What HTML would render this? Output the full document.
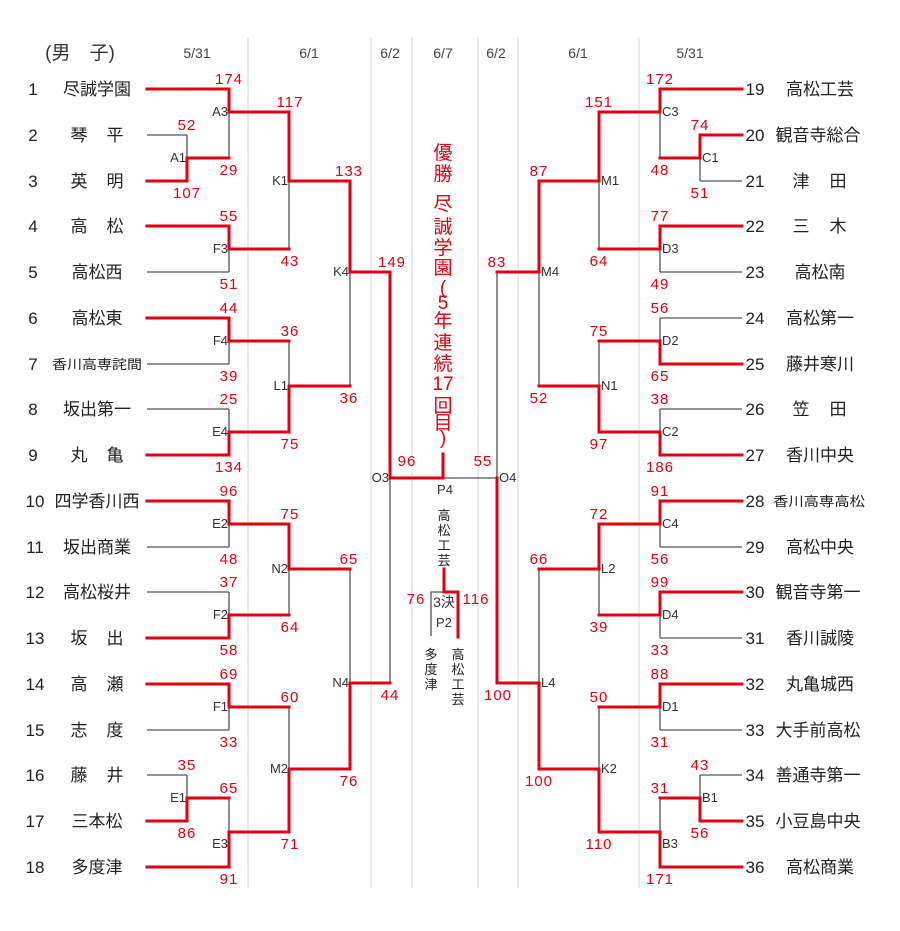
<!DOCTYPE html>
<html><head><meta charset="utf-8"><style>
html,body{margin:0;padding:0;background:#fff;}
svg{display:block;}
.n{font-family:"Liberation Sans","Noto Sans CJK JP",sans-serif;font-size:17px;fill:#222;}
.nm{font-family:"Liberation Sans","Noto Sans CJK JP",sans-serif;font-size:17px;fill:#222;text-anchor:middle;}
.s{font-family:"Liberation Sans",sans-serif;font-size:15px;fill:#e0000f;text-anchor:middle;letter-spacing:1px;}
.l{font-family:"Liberation Sans",sans-serif;font-size:13px;fill:#333;}
.h{font-family:"Liberation Sans","Noto Sans CJK JP",sans-serif;font-size:14px;fill:#444;text-anchor:middle;}
.w{font-family:"Liberation Sans","Noto Sans CJK JP",sans-serif;font-size:19px;fill:#e0000f;text-anchor:middle;}
.v{font-family:"Liberation Sans","Noto Sans CJK JP",sans-serif;font-size:13px;fill:#222;text-anchor:middle;}
.g{stroke:#555;stroke-width:1.3;fill:none;}
.r{stroke:#e0000f;stroke-width:3;fill:none;stroke-linecap:square;}
.sep{stroke:#d4d4d4;stroke-width:1;}
</style></head><body>
<svg width="900" height="931" viewBox="0 0 900 931" xmlns="http://www.w3.org/2000/svg">
<g class="sep">
<line x1="248" y1="38" x2="248" y2="888"/><line x1="371" y1="38" x2="371" y2="888"/>
<line x1="412" y1="38" x2="412" y2="888"/><line x1="478" y1="38" x2="478" y2="888"/>
<line x1="518" y1="38" x2="518" y2="888"/><line x1="639" y1="38" x2="639" y2="888"/>
</g>
<text x="80" y="59" class="h" style="font-size:19px;fill:#333">(男　子)</text>
<text x="197" y="58" class="h">5/31</text><text x="309" y="58" class="h">6/1</text>
<text x="390" y="58" class="h">6/2</text><text x="443" y="58" class="h">6/7</text>
<text x="496" y="58" class="h">6/2</text><text x="578" y="58" class="h">6/1</text>
<text x="690" y="58" class="h">5/31</text>

<g class="g">
<path d="M147 135H187M147 272H229M147 364H229M147 409H229M147 547H229M147 592H229M147 730H229M147 775H187"/>
<path d="M187 135V181M229 89V158M229 226V272M229 318V364M229 409V455M229 501V547M229 592V638M229 684V730M187 775V821M229 798V867M289 112V249M289 341V432M289 524V615M289 707V832M350 181V386M350 569V769M390 272V683"/>
<path d="M742 181H700M742 272H660M742 318H660M742 409H660M742 547H660M742 638H660M742 730H660M742 775H700"/>
<path d="M660 89V158M700 135V181M660 226V272M660 318V364M660 409V455M660 501V547M660 592V638M660 684V730M700 775V821M660 798V867M599 112V249M599 341V432M599 524V615M599 707V832M539 181V386M539 569V769M497 272V683"/>
<path d="M497 478H443"/>
<path d="M431 636V592H444"/>
</g>

<g class="r">
<path d="M147 89H229M147 181H187M147 226H229M147 318H229M147 455H229M147 501H229M147 638H229M147 684H229M147 821H187M147 867H229"/>
<path d="M187 181V158M229 89V112M229 226V249M229 318V341M229 455V432M229 501V524M229 638V615M229 684V707M187 821V798M229 867V832M289 112V181M289 432V386M289 524V569M289 832V769M350 181V272M350 769V683M390 272V478"/>
<path d="M187 158H229M229 112H289M229 249H289M229 341H289M229 432H289M229 524H289M229 615H289M229 707H289M187 798H229M229 832H289M289 181H350M289 386H350M289 569H350M289 769H350M350 272H390M350 683H390M390 478H443V454"/>
<path d="M742 89H660M742 135H700M742 226H660M742 364H660M742 455H660M742 501H660M742 592H660M742 684H660M742 821H700M742 867H660"/>
<path d="M660 89V112M700 135V158M660 226V249M660 364V341M660 455V432M660 501V524M660 592V615M660 684V707M700 821V798M660 867V832M599 112V181M599 432V386M599 524V569M599 832V769M539 181V272M539 769V683M497 683V478"/>
<path d="M700 158H660M660 112H599M660 249H599M660 341H599M660 432H599M660 524H599M660 615H599M660 707H599M700 798H660M660 832H599M599 181H539M599 386H539M599 569H539M599 769H539M539 272H497M539 683H497"/>
<path d="M444 569V592H458V637"/>
</g>

<g class="n" text-anchor="middle">
<text x="33" y="95">1</text><text x="33" y="141">2</text><text x="33" y="187">3</text><text x="33" y="232">4</text><text x="33" y="278">5</text><text x="33" y="324">6</text><text x="33" y="370">7</text><text x="33" y="415">8</text><text x="33" y="461">9</text>
<text x="35" y="507">10</text><text x="35" y="553">11</text><text x="35" y="598">12</text><text x="35" y="644">13</text><text x="35" y="690">14</text><text x="35" y="736">15</text><text x="35" y="781">16</text><text x="35" y="827">17</text><text x="35" y="873">18</text>
</g>
<g class="nm">
<text x="97" y="95">尽誠学園</text>
<text x="79" y="141">琴</text><text x="115" y="141">平</text>
<text x="79" y="187">英</text><text x="115" y="187">明</text>
<text x="79" y="232">高</text><text x="115" y="232">松</text>
<text x="97" y="278">高松西</text>
<text x="97" y="324">高松東</text>
<text x="97" y="369" style="font-size:13px" textLength="90" lengthAdjust="spacingAndGlyphs">香川高専詫間</text>
<text x="97" y="415">坂出第一</text>
<text x="79" y="461">丸</text><text x="115" y="461">亀</text>
<text x="97" y="507">四学香川西</text>
<text x="97" y="553">坂出商業</text>
<text x="97" y="598">高松桜井</text>
<text x="79" y="644">坂</text><text x="115" y="644">出</text>
<text x="79" y="690">高</text><text x="115" y="690">瀬</text>
<text x="79" y="736">志</text><text x="115" y="736">度</text>
<text x="79" y="781">藤</text><text x="115" y="781">井</text>
<text x="97" y="827">三本松</text>
<text x="97" y="873">多度津</text>
</g>

<g class="nm">
<text x="755" y="95">19</text><text x="755" y="141">20</text><text x="755" y="187">21</text><text x="755" y="232">22</text><text x="755" y="278">23</text><text x="755" y="324">24</text><text x="755" y="370">25</text><text x="755" y="415">26</text><text x="755" y="461">27</text>
<text x="755" y="507">28</text><text x="755" y="553">29</text><text x="755" y="598">30</text><text x="755" y="644">31</text><text x="755" y="690">32</text><text x="755" y="736">33</text><text x="755" y="781">34</text><text x="755" y="827">35</text><text x="755" y="873">36</text>
<text x="820" y="95">高松工芸</text>
<text x="818" y="141">観音寺総合</text>
<text x="801" y="187">津</text><text x="838" y="187">田</text>
<text x="801" y="232">三</text><text x="838" y="232">木</text>
<text x="820" y="278">高松南</text>
<text x="820" y="324">高松第一</text>
<text x="820" y="370">藤井寒川</text>
<text x="801" y="415">笠</text><text x="838" y="415">田</text>
<text x="820" y="461">香川中央</text>
<text x="819" y="506" style="font-size:13px" textLength="92" lengthAdjust="spacingAndGlyphs">香川高専高松</text>
<text x="820" y="553">高松中央</text>
<text x="818" y="598">観音寺第一</text>
<text x="820" y="644">香川誠陵</text>
<text x="820" y="690">丸亀城西</text>
<text x="818" y="736">大手前高松</text>
<text x="818" y="781">善通寺第一</text>
<text x="818" y="827">小豆島中央</text>
<text x="820" y="873">高松商業</text>
</g>

<g class="l" text-anchor="end">
<text x="186" y="162">A1</text><text x="228" y="116">A3</text><text x="228" y="253">F3</text><text x="228" y="345">F4</text><text x="228" y="436">E4</text><text x="228" y="528">E2</text><text x="228" y="619">F2</text><text x="228" y="711">F1</text><text x="186" y="802">E1</text><text x="228" y="848">E3</text>
<text x="288" y="185">K1</text><text x="288" y="390">L1</text><text x="288" y="573">N2</text><text x="288" y="773">M2</text>
<text x="349" y="276">K4</text><text x="349" y="687">N4</text><text x="389" y="482">O3</text>
</g>
<g class="l">
<text x="662" y="116">C3</text><text x="702" y="162">C1</text><text x="662" y="253">D3</text><text x="662" y="345">D2</text><text x="662" y="436">C2</text><text x="662" y="528">C4</text><text x="662" y="619">D4</text><text x="662" y="711">D1</text><text x="702" y="802">B1</text><text x="662" y="848">B3</text>
<text x="601" y="185">M1</text><text x="601" y="390">N1</text><text x="601" y="573">L2</text><text x="601" y="773">K2</text>
<text x="541" y="276">M4</text><text x="541" y="687">L4</text><text x="499" y="482">O4</text>
<text x="445" y="494" text-anchor="middle">P4</text>
<text x="444" y="607" text-anchor="middle" style="font-size:14px">3決</text>
<text x="444" y="627" text-anchor="middle">P2</text>
</g>

<g class="s">
<text x="187" y="130">52</text><text x="187" y="198">107</text>
<text x="229" y="84">174</text><text x="229" y="175">29</text>
<text x="229" y="221">55</text><text x="229" y="289">51</text>
<text x="229" y="313">44</text><text x="229" y="381">39</text>
<text x="229" y="404">25</text><text x="229" y="472">134</text>
<text x="229" y="496">96</text><text x="229" y="564">48</text>
<text x="229" y="587">37</text><text x="229" y="655">58</text>
<text x="229" y="679">69</text><text x="229" y="747">33</text>
<text x="187" y="770">35</text><text x="187" y="838">86</text>
<text x="229" y="793">65</text><text x="229" y="884">91</text>
<text x="290" y="107">117</text><text x="290" y="266">43</text>
<text x="290" y="336">36</text><text x="290" y="449">75</text>
<text x="290" y="519">75</text><text x="290" y="632">64</text>
<text x="290" y="702">60</text><text x="290" y="849">71</text>
<text x="349" y="176">133</text><text x="349" y="403">36</text>
<text x="349" y="564">65</text><text x="349" y="786">76</text>
<text x="392" y="267">149</text><text x="390" y="700">44</text>
<text x="407" y="466">96</text><text x="483" y="466">55</text>
<text x="416" y="604">76</text><text x="476" y="604">116</text>
</g>
<g class="s">
<text x="660" y="84">172</text><text x="660" y="175">48</text>
<text x="700" y="130">74</text><text x="700" y="198">51</text>
<text x="660" y="221">77</text><text x="660" y="289">49</text>
<text x="660" y="313">56</text><text x="660" y="381">65</text>
<text x="660" y="404">38</text><text x="660" y="472">186</text>
<text x="660" y="496">91</text><text x="660" y="564">56</text>
<text x="660" y="587">99</text><text x="660" y="655">33</text>
<text x="660" y="679">88</text><text x="660" y="747">31</text>
<text x="700" y="770">43</text><text x="700" y="838">56</text>
<text x="660" y="793">31</text><text x="660" y="884">171</text>
<text x="599" y="107">151</text><text x="599" y="266">64</text>
<text x="599" y="336">75</text><text x="599" y="449">97</text>
<text x="599" y="519">72</text><text x="599" y="632">39</text>
<text x="599" y="702">50</text><text x="599" y="849">110</text>
<text x="539" y="176">87</text><text x="539" y="403">52</text>
<text x="539" y="564">66</text><text x="539" y="786">100</text>
<text x="497" y="267">83</text><text x="498" y="700">100</text>
</g>

<g class="w">
<text x="443" y="159">優</text><text x="443" y="180">勝</text>
<text x="443" y="210">尽</text><text x="443" y="233">誠</text><text x="443" y="254">学</text><text x="443" y="274">園</text>
<text x="443" y="294">(</text><text x="443" y="309">5</text><text x="443" y="327">年</text><text x="443" y="349">連</text><text x="443" y="370">続</text>
<text x="443" y="390">17</text><text x="443" y="412">回</text><text x="443" y="429">目</text><text x="443" y="444">)</text>
</g>

<g class="v">
<text x="444" y="520">高</text><text x="444" y="535">松</text><text x="444" y="550">工</text><text x="444" y="565">芸</text>
<text x="431" y="659">多</text><text x="431" y="674">度</text><text x="431" y="689">津</text>
<text x="458" y="659">高</text><text x="458" y="674">松</text><text x="458" y="689">工</text><text x="458" y="704">芸</text>
</g>
</svg>
</body></html>
